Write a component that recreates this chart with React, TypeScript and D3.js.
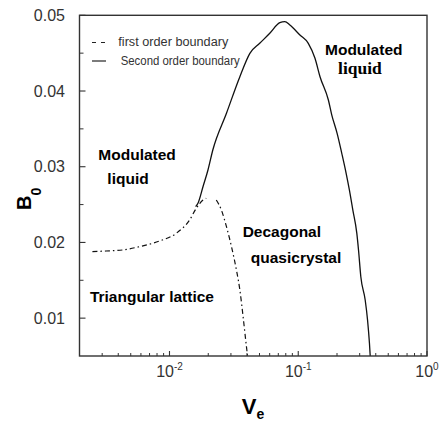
import React from "react";
import * as d3 from "d3";

// ---- data ----
const firstOrderLeftV = [0.00252, 0.00321, 0.00432, 0.00584, 0.00836, 0.01127, 0.01432, 0.01615, 0.0182, 0.0193];
const firstOrderLeftB = [0.01878, 0.01887, 0.019, 0.01944, 0.02019, 0.0212, 0.02296, 0.02451, 0.0256, 0.02583];

const firstOrderRightV = [0.0231, 0.0253, 0.0277, 0.0303, 0.0331, 0.0352, 0.0373, 0.0396, 0.0404];
const firstOrderRightB = [0.0256, 0.02428, 0.02208, 0.01944, 0.01636, 0.01372, 0.01019, 0.00623, 0.005];

const secondOrderV = [0.01596, 0.01663, 0.0182, 0.0199, 0.0217, 0.0277, 0.0352, 0.0421, 0.0502, 0.0601, 0.0719, 0.0787, 0.0861, 0.103, 0.1197, 0.1349, 0.1476, 0.1714, 0.182, 0.2004, 0.2178, 0.2355, 0.2495, 0.2655, 0.2851, 0.2938, 0.3062, 0.3311, 0.3453, 0.3573, 0.3622];
const secondOrderB = [0.02472, 0.02517, 0.02736, 0.02957, 0.03221, 0.03706, 0.04189, 0.04498, 0.0463, 0.04762, 0.04902, 0.04916, 0.04872, 0.0474, 0.0463, 0.04432, 0.04189, 0.03881, 0.03686, 0.03441, 0.03177, 0.02913, 0.02693, 0.02428, 0.0212, 0.019, 0.01547, 0.0124, 0.00976, 0.00668, 0.005];

const yMajorTicks = [0.01, 0.02, 0.03, 0.04, 0.05];
const yTickLabels = ["0.01", "0.02", "0.03", "0.04", "0.05"];
const yMinorTicks = [0.015, 0.025, 0.035, 0.045];
const xMajorTicks = [0.01, 0.1, 1];
const xTickExponents = ["-2", "-1", "0"];

const regionLabels = [
  { text: "Modulated", v: 0.1614, b: 0.04476, serif: false },
  { text: "liquid", v: 0.2037, b: 0.04231, serif: true },
  { text: "Modulated", v: 0.0028, b: 0.03089, serif: false },
  { text: "liquid", v: 0.00329, b: 0.02772, serif: false },
  { text: "Decagonal", v: 0.037, b: 0.02076, serif: false },
  { text: "quasicrystal", v: 0.0428, b: 0.01724, serif: false },
  { text: "Triangular lattice", v: 0.00241, b: 0.01217, serif: false },
];

const W = 445;
const H = 421;
const L = 79.5, R = 427, T = 15.3, B = 356;

export default function App() {
  const x = d3.scaleLog().domain([0.002, 1]).range([L, R]);
  const y = d3.scaleLinear().domain([0.005, 0.05]).range([B, T]);
  const line = d3
    .line<[number, number]>()
    .x((d) => x(d[0]))
    .y((d) => y(d[1]))
    .curve(d3.curveMonotoneX);

  const zip = (a: number[], b: number[]) => a.map((v, i) => [v, b[i]] as [number, number]);

  const xMinor: number[] = [];
  for (const dec of [0.001, 0.01, 0.1]) {
    for (let k = 2; k <= 9; k++) {
      const v = dec * k;
      if (v > 0.002 && v < 1) xMinor.push(v);
    }
  }

  const sans = "'Liberation Sans', Arial, Helvetica, sans-serif";
  const serif = "'Liberation Serif', 'Times New Roman', serif";
  const axisColor = "#333";
  const dashed = "5,3,1.5,3";

  return (
    <svg
      width={W}
      height={H}
      style={{ position: "absolute", left: 0, top: 0, background: "#fff" }}
      fontFamily={sans}
    >
      <rect x={0} y={0} width={W} height={H} fill="#fff" />
      {/* curves */}
      <path d={line(zip(firstOrderLeftV, firstOrderLeftB)) || ""} fill="none" stroke="#111" strokeWidth={1.2} strokeDasharray={dashed} />
      <path d={line(zip(firstOrderRightV, firstOrderRightB)) || ""} fill="none" stroke="#111" strokeWidth={1.2} strokeDasharray={dashed} />
      <path d={line(zip(secondOrderV, secondOrderB)) || ""} fill="none" stroke="#111" strokeWidth={1.3} />

      {/* frame */}
      <rect x={L} y={T} width={R - L} height={B - T} fill="none" stroke={axisColor} strokeWidth={1.4} />

      {/* y ticks */}
      {yMajorTicks.map((t, i) => (
        <g key={"ym" + i}>
          <line x1={L} x2={L + 6} y1={y(t)} y2={y(t)} stroke={axisColor} strokeWidth={1.1} />
          <text x={65} y={y(t) + 5.5} textAnchor="end" fontSize={16} fill="#333">
            {yTickLabels[i]}
          </text>
        </g>
      ))}
      {yMinorTicks.map((t, i) => (
        <line key={"yn" + i} x1={L} x2={L + 4} y1={y(t)} y2={y(t)} stroke={axisColor} strokeWidth={1} />
      ))}

      {/* x ticks */}
      {xMajorTicks.map((t, i) => (
        <g key={"xm" + i}>
          <line x1={x(t)} x2={x(t)} y1={B} y2={B - 5} stroke={axisColor} strokeWidth={1.1} />
          <text x={x(t)} y={376.7} textAnchor="middle" fontSize={16} fill="#333">
            10
            <tspan dy={-7} fontSize={10}>
              {xTickExponents[i]}
            </tspan>
          </text>
        </g>
      ))}
      {xMinor.map((t, i) => (
        <line key={"xn" + i} x1={x(t)} x2={x(t)} y1={B} y2={B - 3} stroke={axisColor} strokeWidth={1} />
      ))}

      {/* legend */}
      <line x1={92} x2={105} y1={42.5} y2={42.5} stroke="#222" strokeWidth={1.1} strokeDasharray="4,5" />
      <text x={118.3} y={46} fontSize={12} fill="#333" textLength={110} lengthAdjust="spacingAndGlyphs">
        first order boundary
      </text>
      <line x1={92} x2={106} y1={61} y2={61} stroke="#222" strokeWidth={1.2} />
      <text x={120.7} y={65} fontSize={12} fill="#333" textLength={119} lengthAdjust="spacingAndGlyphs">
        Second order boundary
      </text>

      {/* region labels */}
      {regionLabels.map((r, i) => (
        <text
          key={"rl" + i}
          x={x(r.v)}
          y={y(r.b)}
          fontSize={r.serif ? 17.5 : 15.5}
          fontWeight="bold"
          fontFamily={r.serif ? serif : sans}
          fill="#000"
        >
          {r.text}
        </text>
      ))}

      {/* axis titles */}
      <text transform="translate(31,210) rotate(-90)" fontSize={20} fontWeight="bold" fill="#000">
        B
        <tspan dy={10} fontSize={14}>
          0
        </tspan>
      </text>
      <text x={253} y={413.5} textAnchor="middle" fontSize={22} fontWeight="bold" fill="#000">
        V
        <tspan dy={5} fontSize={14}>
          e
        </tspan>
      </text>
    </svg>
  );
}
